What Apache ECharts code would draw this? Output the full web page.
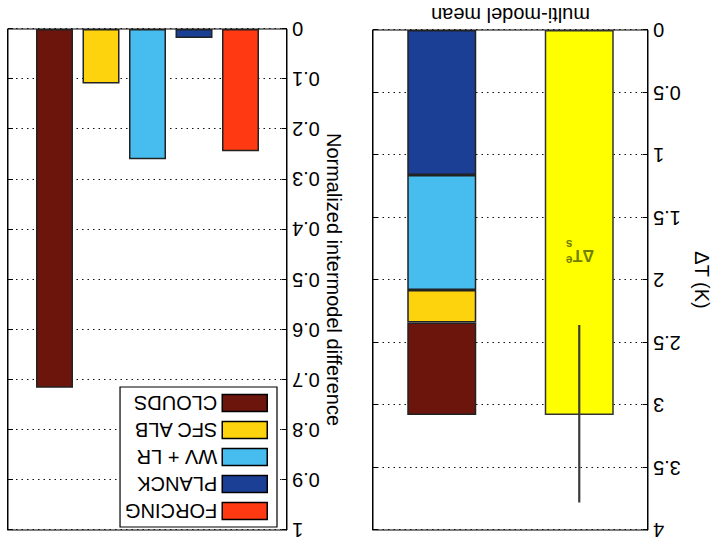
<!DOCTYPE html>
<html><head><meta charset="utf-8">
<script src="https://cdn.jsdelivr.net/npm/echarts/dist/echarts.min.js"></script>
<style>
html,body{margin:0;padding:0;background:#fff;overflow:hidden}
#c{width:714px;height:540px;transform:rotate(180deg);transform-origin:50% 50%;}
</style>
</head><body><div id="c"></div>
<script>
// ---- data ----
const components = ['FORCING', 'PLANCK', 'WV + LR', 'SFC ALB', 'CLOUDS'];
const componentColors = ['#ff3a12', '#1b3f94', '#46bdee', '#fcd30c', '#6b150c'];
const normalizedDiff = [0.244, 0.018, 0.26, 0.109, 0.716];
const componentPositions = [1, 2, 3, 4, 5];

const meanCategories = ['ΔTe s', 'feedbacks'];
const stackedComponents = ['PLANCK', 'WV + LR', 'SFC ALB', 'CLOUDS'];
const stackedValues = [1.16, 0.92, 0.26, 0.74];
const meanWarming = 3.08;
const warmingRange = [2.36, 3.78];
const warmingTextAt = 1.80;

const dtTicks = ['0', '0.5', '1', '1.5', '2', '2.5', '3', '3.5', '4'];
const normTicks = ['0', '0.1', '0.2', '0.3', '0.4', '0.5', '0.6', '0.7', '0.8', '0.9', '1'];

// ---- chart ----
const FONT = "'Liberation Sans', Arial, Helvetica, sans-serif";
const colorOf = n => componentColors[components.indexOf(n)];
const chart = echarts.init(document.getElementById('c'), null, {renderer: 'svg'});

const baseY = (gi, min, max, step, ticks, name, gap, side) => ({
  gridIndex: gi, type: 'value', min: min, max: max, interval: step, position: side,
  name: name, nameLocation: 'middle', nameGap: gap,
  nameTextStyle: {fontSize: 20, color: '#000', fontFamily: FONT},
  axisLine: {show: true, lineStyle: {color: '#000', width: 1}},
  axisTick: {show: true, inside: true, length: 5, lineStyle: {color: '#000'}},
  axisLabel: name ? {show: true, margin: 5, fontSize: 20, color: '#000', fontFamily: FONT,
    showMinLabel: true, showMaxLabel: true,
    formatter: v => ticks[Math.round((v - min) / step)]} : {show: false},
  splitLine: name ? {show: true, lineStyle: {color: '#111', type: [1.5, 4], width: 1.2}} : {show: false}
});

const hiddenAxisParts = {
  axisLine: {show: false}, axisTick: {show: false}, axisLabel: {show: false}, splitLine: {show: false}
};

const series = [];
series.push({
  type: 'bar', name: meanCategories[0], xAxisIndex: 0, yAxisIndex: 0,
  data: [[0, meanWarming]], barWidth: 69, barGap: '-100%',
  itemStyle: {color: '#ffff00', borderColor: '#333', borderWidth: 1.5}
});
stackedComponents.forEach((n, i) => series.push({
  type: 'bar', name: n, stack: 'mm', xAxisIndex: 0, yAxisIndex: 0,
  data: [[1, stackedValues[i]]], barWidth: 69, barGap: '-100%',
  itemStyle: {color: colorOf(n), borderColor: '#222', borderWidth: 1.5}
}));
series.push({
  type: 'line', xAxisIndex: 0, yAxisIndex: 0, symbol: 'none', silent: true, z: 5,
  data: [[0, warmingRange[0]], [0, warmingRange[1]]],
  lineStyle: {color: '#3a3a3a', width: 2.2}
});
const lbl = (t, fs, off) => ({value: [0, warmingTextAt],
  label: {show: true, formatter: t, fontSize: fs, offset: off, color: '#4a5c00',
    fontWeight: 'bold', fontFamily: FONT}});
series.push({
  type: 'scatter', xAxisIndex: 0, yAxisIndex: 0, symbolSize: 0, silent: true, z: 6,
  label: {show: true, position: 'inside'},
  data: [lbl('ΔT', 16, [-4, 0]), lbl('e', 12, [10, -5]), lbl('s', 12, [10, 11])]
});
components.forEach((n, i) => series.push({
  type: 'bar', name: n, xAxisIndex: 1, yAxisIndex: 2,
  data: [[componentPositions[i], normalizedDiff[i]]], barWidth: 37, barGap: '-100%',
  itemStyle: {color: componentColors[i], borderColor: '#222', borderWidth: 1.5}
}));

chart.setOption({
  animation: false,
  backgroundColor: '#fff',
  textStyle: {fontFamily: FONT},
  grid: [
    {left: 66, top: 5, width: 275, height: 506, show: true, borderColor: '#000', borderWidth: 1, backgroundColor: '#fff'},
    {left: 427, top: 7, width: 279, height: 504, show: true, borderColor: '#000', borderWidth: 1, backgroundColor: '#fff'}
  ],
  legend: {
    data: components, orient: 'vertical', left: 437, top: 13,
    icon: 'rect', itemWidth: 45, itemHeight: 17, itemGap: 7,
    padding: [6, 5, 6, 9], selectedMode: false,
    backgroundColor: '#fff', borderColor: '#000', borderWidth: 1.2,
    itemStyle: {borderColor: '#000', borderWidth: 1.5},
    textStyle: {fontSize: 20, color: '#000', fontFamily: FONT}
  },
  xAxis: [
    Object.assign({gridIndex: 0, type: 'category', data: meanCategories, boundaryGap: true,
      name: 'multi-model mean', nameLocation: 'middle', nameGap: 5,
      nameTextStyle: {fontSize: 20, color: '#000', fontFamily: FONT, verticalAlign: 'top'}}, hiddenAxisParts),
    Object.assign({gridIndex: 1, type: 'value', min: 0, max: 6}, hiddenAxisParts)
  ],
  yAxis: [
    baseY(0, 0, 4, 0.5, dtTicks, 'ΔT (K)', 44, 'left'),
    baseY(0, 0, 4, 0.5, dtTicks, '', 0, 'right'),
    baseY(1, 0, 1, 0.1, normTicks, 'Normalized intermodel difference', 34, 'left'),
    baseY(1, 0, 1, 0.1, normTicks, '', 0, 'right')
  ],
  series: series
});
</script>
</body></html>
